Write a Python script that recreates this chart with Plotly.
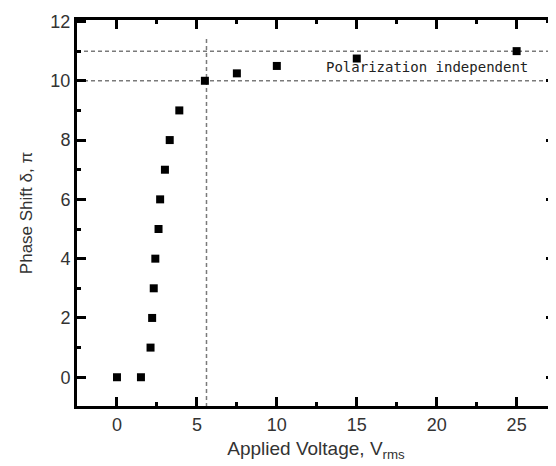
import plotly.graph_objects as go

# Data
voltage = [0, 1.5, 2.1, 2.2, 2.3, 2.4, 2.6, 2.7, 3.0, 3.3, 3.9, 5.5, 7.5, 10, 15, 25]
phase_shift = [0, 0, 1, 2, 3, 4, 5, 6, 7, 8, 9, 10, 10.25, 10.5, 10.75, 11]

threshold_voltage = 5.6
threshold_top = 11.5
band_levels = [10, 11]
annotation_text = "Polarization independent"
annotation_pos = (19.4, 10.45)

x_ticks = [0, 5, 10, 15, 20, 25]
y_ticks = [0, 2, 4, 6, 8, 10, 12]

fig = go.Figure()

fig.add_trace(go.Scatter(
    x=voltage, y=phase_shift, mode="markers",
    marker=dict(symbol="square", size=8, color="black"),
    showlegend=False,
))

gray = "#7a7a7a"
fig.add_shape(type="line", x0=threshold_voltage, x1=threshold_voltage,
              y0=-1, y1=threshold_top, xref="x", yref="y",
              line=dict(color=gray, width=1.5, dash="4px,3px"), layer="below")
for lv in band_levels:
    fig.add_shape(type="line", x0=0, x1=1, xref="paper", y0=lv, y1=lv, yref="y",
                  line=dict(color=gray, width=1.5, dash="4px,3px"), layer="below")

fig.add_annotation(x=annotation_pos[0], y=annotation_pos[1], text=annotation_text,
                   showarrow=False, xref="x", yref="y",
                   font=dict(family="DejaVu Sans Mono", size=14, color="#222"))

axis_common = dict(
    showline=True, linecolor="black", linewidth=3, mirror="ticks",
    ticks="inside", ticklen=9, tickwidth=3, tickcolor="black",
    showgrid=False, zeroline=False, automargin=False,
    tickfont=dict(family="Liberation Sans, Arial", size=18, color="#333"),
)

fig.update_xaxes(
    range=[-2.5, 27.4], tickvals=x_ticks,
    title=dict(text="Applied Voltage, V<sub>rms</sub>", standoff=9,
               font=dict(family="Liberation Sans, Arial", size=19, color="#333")),
    minor=dict(dtick=2.5, tick0=0, ticks="inside", ticklen=4, tickwidth=3, tickcolor="black"),
    **axis_common,
)
fig.update_yaxes(
    range=[-0.97, 12.05], tickvals=y_ticks,
    title=dict(text="Phase Shift δ, π", standoff=14,
               font=dict(family="Liberation Sans, Arial", size=17, color="#333")),
    minor=dict(dtick=1, tick0=0, ticks="inside", ticklen=4, tickwidth=3, tickcolor="black"),
    **axis_common,
)

fig.update_layout(
    width=556, height=466,
    margin=dict(l=69, r=9, t=12, b=68),
    plot_bgcolor="white", paper_bgcolor="white",
)

fig.write_html("out.html")
